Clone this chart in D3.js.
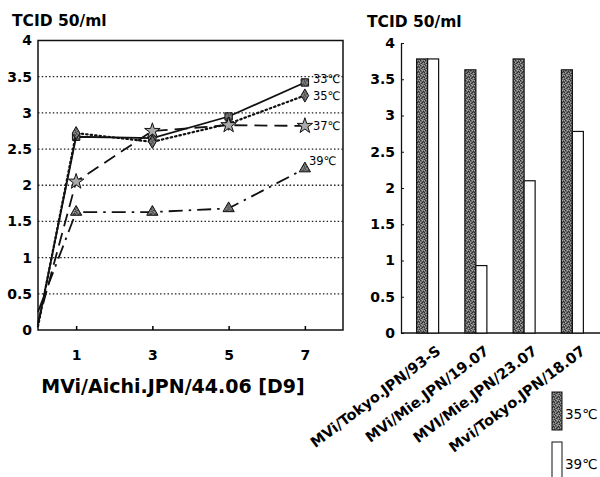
<!DOCTYPE html>
<html>
<head>
<meta charset="utf-8">
<script src="https://d3js.org/d3.v7.min.js"></script>
<style>
  body { margin: 0; background: #fff; }
  svg { font-family: "DejaVu Sans", sans-serif; }
</style>
</head>
<body>
<script>
// Left chart data: titre by day, one array per temperature
var days = [0, 1, 3, 5, 7];
var dayTicks = [1, 3, 5, 7];
var temp33 = [0.07, 2.67, 2.65, 2.95, 3.42];
var temp35 = [0.05, 2.72, 2.60, 2.85, 3.24];
var temp37 = [0.10, 2.05, 2.75, 2.83, 2.82];
var temp39 = [0.25, 1.63, 1.63, 1.68, 2.23];
var seriesNames = ["33\u2103", "35\u2103", "37\u2103", "39\u2103"];

// Right chart data
var strains = ["MVi/Tokyo.JPN/93-S", "MVi/Mie.JPN/19.07", "MVI/Mie.JPN/23.07", "Mvi/Tokyo.JPN/18.07"];
var bar35 = [3.78, 3.63, 3.78, 3.63];
var bar39 = [3.78, 0.93, 2.10, 2.78];
var barNames = ["35\u2103", "39\u2103"];

var yTicks = [0, 0.5, 1, 1.5, 2, 2.5, 3, 3.5, 4];

var svgWidth = 600;
var svgHeight = 477;

var svg = d3.select("body")
  .append("svg")
  .attr("width", svgWidth)
  .attr("height", svgHeight);

// mottled grey fill for the dark bars / markers
var defs = svg.append("defs");
var pat = defs.append("pattern")
  .attr("id", "stip")
  .attr("width", 5)
  .attr("height", 5)
  .attr("patternUnits", "userSpaceOnUse");
pat.append("rect").attr("width", 5).attr("height", 5).attr("fill", "#6c6c6c");
var dark = [[0, 0], [3, 1], [1, 3], [4, 4], [2, 2], [4, 2]];
var light = [[2, 0], [0, 2], [3, 3], [1, 4], [4, 0]];
dark.forEach(function(p) {
  pat.append("rect").attr("x", p[0]).attr("y", p[1]).attr("width", 1).attr("height", 1).attr("fill", "#2e2e2e");
});
light.forEach(function(p) {
  pat.append("rect").attr("x", p[0]).attr("y", p[1]).attr("width", 1).attr("height", 1).attr("fill", "#a6a6a6");
});

// ---------------- LEFT: line chart ----------------
var xDay = d3.scaleLinear().domain([0, 8]).range([38, 343]);
var yLeft = d3.scaleLinear().domain([0, 4]).range([330, 40.5]);

svg.append("text")
  .attr("x", 12)
  .attr("y", 26)
  .attr("font-size", 15.5)
  .attr("font-weight", "bold")
  .text("TCID 50/ml");

// dotted gridlines
svg.append("g")
  .selectAll("line")
  .data(yTicks.filter(d => d > 0 && d < 4))
  .enter()
  .append("line")
  .attr("x1", xDay(0))
  .attr("x2", xDay(8))
  .attr("y1", d => yLeft(d))
  .attr("y2", d => yLeft(d))
  .attr("stroke", "#222")
  .attr("stroke-width", 1.3)
  .attr("stroke-dasharray", "1.5,2.2");

// frame
svg.append("rect")
  .attr("x", xDay(0))
  .attr("y", yLeft(4))
  .attr("width", xDay(8) - xDay(0))
  .attr("height", yLeft(0) - yLeft(4))
  .attr("fill", "none")
  .attr("stroke", "#111")
  .attr("stroke-width", 1.5);

// y axis
var leftAxis = d3.axisLeft(yLeft)
  .tickValues(yTicks)
  .tickFormat(d3.format("~g"))
  .tickSize(0)
  .tickPadding(6);
var gl = svg.append("g")
  .attr("transform", `translate(${xDay(0)}, 0)`)
  .call(leftAxis);
gl.select(".domain").remove();
gl.selectAll("text")
  .attr("font-size", 14)
  .attr("font-weight", "bold")
  .attr("font-family", "DejaVu Sans, sans-serif")
  .attr("fill", "#000");

// x axis
var bottomAxis = d3.axisBottom(xDay)
  .tickValues(dayTicks)
  .tickFormat(d3.format("d"))
  .tickSizeInner(-4)
  .tickSizeOuter(0)
  .tickPadding(20);
var gb = svg.append("g")
  .attr("transform", `translate(0, ${yLeft(0)})`)
  .call(bottomAxis);
gb.select(".domain").remove();
gb.selectAll("line").attr("stroke", "#000").attr("stroke-width", 1.5);
gb.selectAll("text")
  .attr("font-size", 14)
  .attr("font-weight", "bold")
  .attr("font-family", "DejaVu Sans, sans-serif")
  .attr("fill", "#000");

svg.append("text")
  .attr("x", 173)
  .attr("y", 393)
  .attr("text-anchor", "middle")
  .attr("font-size", 19)
  .attr("font-weight", "bold")
  .text("MVi/Aichi.JPN/44.06 [D9]");

// series
var allSeries = [temp33, temp35, temp37, temp39];
var dashes = [null, "1.5,3", "13,7", "14,6,2.5,6"];
var symbols = [d3.symbolSquare, d3.symbolDiamond, d3.symbolStar, d3.symbolTriangle];
var symSize = [55, 50, 75, 55];
var labelDx = [8, 8, 8, 4];
var labelDy = [1, 4, 4, -4];

var line = d3.line()
  .x((d, i) => xDay(days[i]))
  .y(d => yLeft(d));

allSeries.forEach(function(vals, s) {
  svg.append("path")
    .datum(vals)
    .attr("d", line)
    .attr("fill", "none")
    .attr("stroke", "#111")
    .attr("stroke-width", s == 1 ? 2.2 : 1.8)
    .attr("stroke-linecap", s == 1 ? "round" : "butt")
    .attr("stroke-dasharray", dashes[s]);

  svg.append("g")
    .selectAll("path")
    .data(vals.slice(1))
    .enter()
    .append("path")
    .attr("d", d3.symbol().type(symbols[s]).size(symSize[s]))
    .attr("transform", (d, i) => `translate(${xDay(days[i + 1])}, ${yLeft(d)})`)
    .attr("fill", s == 2 ? "#aaa" : "url(#stip)")
    .attr("stroke", "#111")
    .attr("stroke-width", 1);

  svg.append("text")
    .attr("x", xDay(days[4]) + labelDx[s])
    .attr("y", yLeft(vals[4]) + labelDy[s])
    .attr("font-size", 11.5)
    .text(seriesNames[s]);
});

// ---------------- RIGHT: bar chart ----------------
var xStrain = d3.scaleBand().domain(strains).range([403.5, 596.5]);
var yRight = d3.scaleLinear().domain([0, 4]).range([333, 43]);
var barW = 11;

svg.append("text")
  .attr("x", 367)
  .attr("y", 27)
  .attr("font-size", 15.5)
  .attr("font-weight", "bold")
  .text("TCID 50/ml");

var rightAxis = d3.axisLeft(yRight)
  .tickValues(yTicks)
  .tickFormat(d3.format("~g"))
  .tickSizeInner(-3)
  .tickSizeOuter(0)
  .tickPadding(6);
var gr = svg.append("g")
  .attr("transform", "translate(401, 0)")
  .call(rightAxis);
gr.select(".domain").attr("stroke", "#111").attr("stroke-width", 1.3);
gr.selectAll("line").attr("stroke", "#111");
gr.selectAll("text")
  .attr("font-size", 14)
  .attr("font-weight", "bold")
  .attr("font-family", "DejaVu Sans, sans-serif")
  .attr("fill", "#000");

// baseline
svg.append("line")
  .attr("x1", 401)
  .attr("x2", 600)
  .attr("y1", yRight(0))
  .attr("y2", yRight(0))
  .attr("stroke", "#111")
  .attr("stroke-width", 1.3);

var mid = d => xStrain(d) + xStrain.bandwidth() / 2;

svg.append("g")
  .selectAll("rect")
  .data(strains)
  .enter()
  .append("rect")
  .attr("x", d => mid(d) - barW)
  .attr("y", (d, i) => yRight(bar35[i]))
  .attr("width", barW)
  .attr("height", (d, i) => yRight(0) - yRight(bar35[i]))
  .attr("fill", "url(#stip)")
  .attr("stroke", "#111")
  .attr("stroke-width", 1.2);

svg.append("g")
  .selectAll("rect")
  .data(strains)
  .enter()
  .append("rect")
  .attr("x", d => mid(d))
  .attr("y", (d, i) => yRight(bar39[i]))
  .attr("width", barW)
  .attr("height", (d, i) => yRight(0) - yRight(bar39[i]))
  .attr("fill", "#fff")
  .attr("stroke", "#111")
  .attr("stroke-width", 1.2);

// rotated category labels
svg.append("g")
  .selectAll("text")
  .data(strains)
  .enter()
  .append("text")
  .attr("transform", d => `translate(${mid(d) + 14}, 353) rotate(-37)`)
  .attr("text-anchor", "end")
  .attr("font-size", 14.5)
  .attr("font-weight", "bold")
  .text(d => d);

// legend
var legY = [392, 442];
var legFill = ["url(#stip)", "#fff"];
barNames.forEach(function(name, i) {
  svg.append("rect")
    .attr("x", 552)
    .attr("y", legY[i])
    .attr("width", 10)
    .attr("height", 38)
    .attr("fill", legFill[i])
    .attr("stroke", "#111")
    .attr("stroke-width", 1);
  svg.append("text")
    .attr("x", 565)
    .attr("y", legY[i] + 27)
    .attr("font-size", 13.5)
    .text(name);
});
</script>
</body>
</html>
